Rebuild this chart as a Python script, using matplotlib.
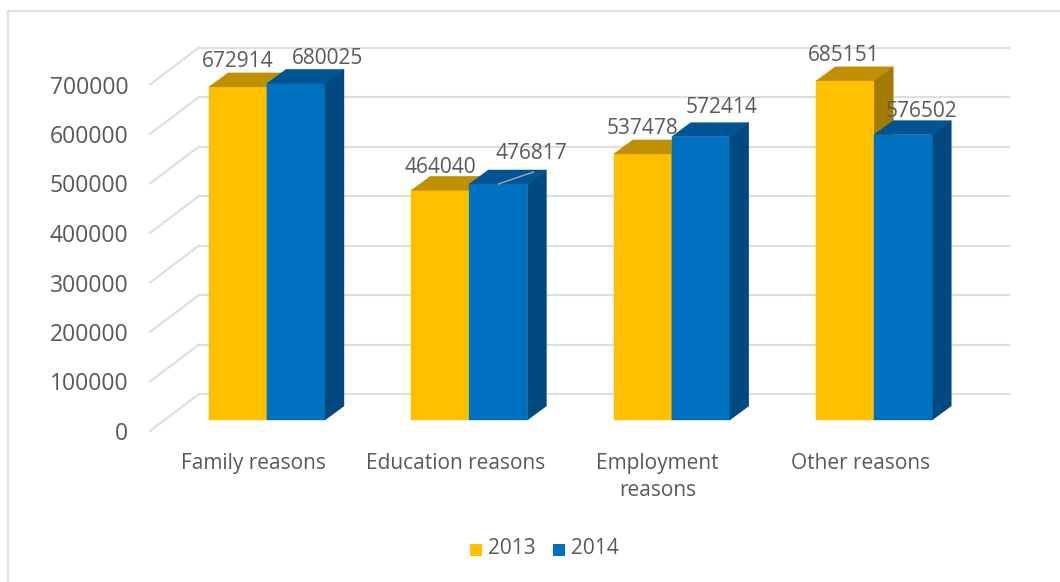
import matplotlib
matplotlib.use("Agg")
import matplotlib.pyplot as plt
import numpy as np
from matplotlib.lines import Line2D
from matplotlib.patches import Polygon, Rectangle
from matplotlib.transforms import ScaledTranslation

plt.rcParams["font.family"] = "Open Sans"

# Chart data
CATEGORIES = ["Family reasons", "Education reasons", "Employment\nreasons", "Other reasons"]
VALUES_2013 = [672914, 464040, 537478, 685151]
VALUES_2014 = [680025, 476817, 572414, 576502]
Y_TICKS = [0, 100000, 200000, 300000, 400000, 500000, 600000, 700000]

W, H, DPI = 1060, 582, 100
TEXT = "#595959"
GRID = "#dedede"
YELLOW = ("#ffc000", "#bf9000", "#a37b00")
BLUE = ("#0070c0", "#005494", "#004a80")

# Pixel layout of the plot box
LEFT, RIGHT, TOP, BOTTOM = 150, 1010, 47, 432
PX_PER_X = 202.4          # pixels between category centres
PX_PER_Y = 49.5 / 100000  # pixels per unit of value
X0 = 267                  # pixel of the first category centre
Y0 = 420                  # pixel of the zero line on the bar fronts
BAR_W = 58 / PX_PER_X
DEPTH_X = 19 / PX_PER_X
DEPTH_Y = 14 / PX_PER_Y
WALL_X = 49 / PX_PER_X
WALL_Y = 37 / PX_PER_Y
BACK_Y = 26 / PX_PER_Y    # height of the back wall's zero line above the bar fronts

# Label offsets from the top centre of each bar, in pixels
OFFSETS_2013 = [(0, 25), (0, 23), (0, 25), (-1, 25)]
OFFSETS_2014 = [(32, 25), (33, 30), (21, 29), (18, 23)]


def draw_bar(ax, x, value, colors):
    """Draw one bar as a front face plus top and side faces"""
    front, top, side = colors
    ax.bar(x, value, BAR_W, align="edge", color=front, ec=front, lw=0.3, zorder=3)
    x1 = x + BAR_W
    ax.add_patch(Polygon([(x, value), (x1, value), (x1 + DEPTH_X, value + DEPTH_Y),
                          (x + DEPTH_X, value + DEPTH_Y)],
                         closed=True, fc=top, ec=top, lw=0.3, zorder=3, clip_on=False))
    ax.add_patch(Polygon([(x1, 0), (x1 + DEPTH_X, DEPTH_Y), (x1 + DEPTH_X, value + DEPTH_Y),
                          (x1, value)],
                         closed=True, fc=side, ec=side, lw=0.3, zorder=3, clip_on=False))


fig = plt.figure(figsize=(W / DPI, H / DPI), dpi=DPI, facecolor="white")
ax = fig.add_axes([LEFT / W, 1 - BOTTOM / H, (RIGHT - LEFT) / W, (BOTTOM - TOP) / H])
ax.set_xlim((LEFT - X0) / PX_PER_X, (RIGHT - X0) / PX_PER_X)
ax.set_ylim(-(BOTTOM - Y0) / PX_PER_Y, (Y0 - TOP) / PX_PER_Y)
for spine in ax.spines.values():
    spine.set_visible(False)
ax.patch.set_visible(False)

# Back wall gridlines and the diagonals down the left wall
x_wall = ax.get_xlim()[0]
for tick in Y_TICKS:
    back = tick + BACK_Y
    ax.plot([x_wall + WALL_X, ax.get_xlim()[1]], [back, back], color=GRID, lw=1.5,
            zorder=1, clip_on=False, solid_capstyle="butt")
    ax.plot([x_wall, x_wall + WALL_X], [back - WALL_Y, back], color=GRID, lw=1.5,
            zorder=1, clip_on=False)

# Bars: 2013 first so the 2014 faces cover its side and the end of its top
xs = np.arange(len(CATEGORIES))
for i in xs:
    draw_bar(ax, i - BAR_W, VALUES_2013[i], YELLOW)
    draw_bar(ax, i, VALUES_2014[i], BLUE)

# Value labels
for i in xs:
    ax.annotate(str(VALUES_2013[i]), (i - BAR_W / 2, VALUES_2013[i]), xytext=OFFSETS_2013[i],
                textcoords="offset pixels", ha="center", va="center", fontsize=15,
                color=TEXT, zorder=5, annotation_clip=False)
    ax.annotate(str(VALUES_2014[i]), (i + BAR_W / 2, VALUES_2014[i]), xytext=OFFSETS_2014[i],
                textcoords="offset pixels", ha="center", va="center", fontsize=15,
                color=TEXT, zorder=5, annotation_clip=False)

# Leader line of the second 2014 label
ax.plot([1 + BAR_W / 2, 1 + BAR_W / 2 + 35 / PX_PER_X],
        [VALUES_2014[1], VALUES_2014[1] + 12 / PX_PER_Y],
        color="#a6a6a6", lw=1, zorder=4, clip_on=False)

# Axis labels sit on the front edge of the floor, below and left of the bar fronts
ax.set_yticks(Y_TICKS)
ax.set_yticklabels([str(t) for t in Y_TICKS], fontsize=16.5, color=TEXT)
ax.tick_params(axis="y", length=0, pad=15.5)
shift_y = ScaledTranslation(0, -11 / DPI, fig.dpi_scale_trans)
for label in ax.get_yticklabels():
    label.set_transform(label.get_transform() + shift_y)

ax.set_xticks(xs)
ax.set_xticklabels(CATEGORIES, fontsize=15, color=TEXT, linespacing=1.4, va="top")
ax.tick_params(axis="x", length=0, pad=15)
shift_x = ScaledTranslation(-14 / DPI, 0, fig.dpi_scale_trans)
for label in ax.get_xticklabels():
    label.set_transform(label.get_transform() + shift_x)

# Legend
for px, color, name in [(470, YELLOW[0], "2013"), (553, BLUE[0], "2014")]:
    fig.add_artist(Rectangle((px / W, 1 - 556 / H), 12 / W, 12 / H, transform=fig.transFigure,
                             fc=color, ec="none"))
    fig.text((px + 18) / W, 1 - 548 / H, name, fontsize=15, color=TEXT, va="center", ha="left")

# Chart frame
frame = dict(color="#e0e0e0", lw=1.5, transform=fig.transFigure)
fig.add_artist(Line2D([8 / W, 1], [1 - 11 / H, 1 - 11 / H], **frame))
fig.add_artist(Line2D([8 / W, 8 / W], [0, 1 - 11 / H], **frame))

fig.savefig("out.png", dpi=DPI)
